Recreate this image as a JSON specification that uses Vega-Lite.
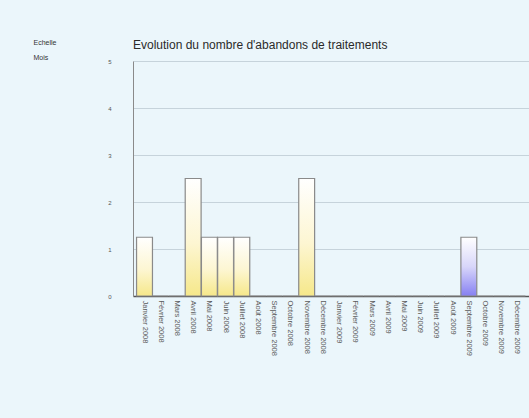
{
  "$schema": "https://vega.github.io/schema/vega-lite/v6.json",
  "autosize": "none",
  "width": 396,
  "height": 235,
  "padding": {"left": 133, "top": 61, "right": 0, "bottom": 122},
  "background": "#ebf6fb",
  "title": {
    "text": "Evolution du nombre d'abandons de traitements",
    "anchor": "start",
    "frame": "group",
    "font": "Liberation Sans",
    "fontSize": 12,
    "fontWeight": "normal",
    "color": "#2a2a2a",
    "offset": -14
  },
  "config": {
    "view": {"stroke": null},
    "font": "Liberation Sans"
  },
  "data": {
    "values": [
      {"mois": "Janvier 2008", "abandons": 1.25, "type": "normal"},
      {"mois": "Février 2008", "abandons": 0, "type": "normal"},
      {"mois": "Mars 2008", "abandons": 0, "type": "normal"},
      {"mois": "Avril 2008", "abandons": 2.5, "type": "normal"},
      {"mois": "Mai 2008", "abandons": 1.25, "type": "normal"},
      {"mois": "Juin 2008", "abandons": 1.25, "type": "normal"},
      {"mois": "Juillet 2008", "abandons": 1.25, "type": "normal"},
      {"mois": "Août 2008", "abandons": 0, "type": "normal"},
      {"mois": "Septembre 2008", "abandons": 0, "type": "normal"},
      {"mois": "Octobre 2008", "abandons": 0, "type": "normal"},
      {"mois": "Novembre 2008", "abandons": 2.5, "type": "normal"},
      {"mois": "Décembre 2008", "abandons": 0, "type": "normal"},
      {"mois": "Janvier 2009", "abandons": 0, "type": "normal"},
      {"mois": "Février 2009", "abandons": 0, "type": "normal"},
      {"mois": "Mars 2009", "abandons": 0, "type": "normal"},
      {"mois": "Avril 2009", "abandons": 0, "type": "normal"},
      {"mois": "Mai 2009", "abandons": 0, "type": "normal"},
      {"mois": "Juin 2009", "abandons": 0, "type": "normal"},
      {"mois": "Juillet 2009", "abandons": 0, "type": "normal"},
      {"mois": "Août 2009", "abandons": 0, "type": "normal"},
      {"mois": "Septembre 2009", "abandons": 1.25, "type": "selection"},
      {"mois": "Octobre 2009", "abandons": 0, "type": "normal"},
      {"mois": "Novembre 2009", "abandons": 0, "type": "normal"},
      {"mois": "Décembre 2009", "abandons": 0, "type": "normal"}
    ]
  },
  "mark": {"type": "bar", "stroke": "#8a8a8a", "strokeWidth": 1.2},
  "encoding": {
    "x": {
      "field": "mois",
      "type": "nominal",
      "sort": null,
      "scale": {"paddingInner": 0.02, "paddingOuter": 0.22},
      "axis": {
        "title": null,
        "labelAngle": 90,
        "labelFontSize": 7.5,
        "labelColor": "#5a5a5a",
        "labelPadding": 4,
        "ticks": false,
        "domainColor": "#555555",
        "domainWidth": 1.5
      }
    },
    "y": {
      "field": "abandons",
      "type": "quantitative",
      "scale": {"domain": [0, 5], "nice": false},
      "axis": {
        "values": [0, 1, 2, 3, 4, 5],
        "title": ["Echelle", "Mois"],
        "titleAngle": 0,
        "titleAlign": "left",
        "titleBaseline": "top",
        "titleX": -100,
        "titleY": -23,
        "titleFontSize": 7,
        "titleFontWeight": "normal",
        "titleColor": "#333333",
        "titleLineHeight": 15,
        "labelFontSize": 6,
        "labelColor": "#555555",
        "labelPadding": 22,
        "ticks": false,
        "domainColor": "#8a8a8a",
        "gridColor": "#c6d3db",
        "gridWidth": 1
      }
    },
    "fill": {
      "condition": {
        "test": "datum.type === 'selection'",
        "value": {
          "gradient": "linear", "x1": 0, "y1": 0, "x2": 0, "y2": 1,
          "stops": [
            {"offset": 0, "color": "#ffffff"},
            {"offset": 0.5, "color": "#d8d6fa"},
            {"offset": 1, "color": "#8680f2"}
          ]
        }
      },
      "value": {
        "gradient": "linear", "x1": 0, "y1": 0, "x2": 0, "y2": 1,
        "stops": [
          {"offset": 0, "color": "#ffffff"},
          {"offset": 0.55, "color": "#fdf6d2"},
          {"offset": 1, "color": "#f6e88a"}
        ]
      }
    }
  }
}
